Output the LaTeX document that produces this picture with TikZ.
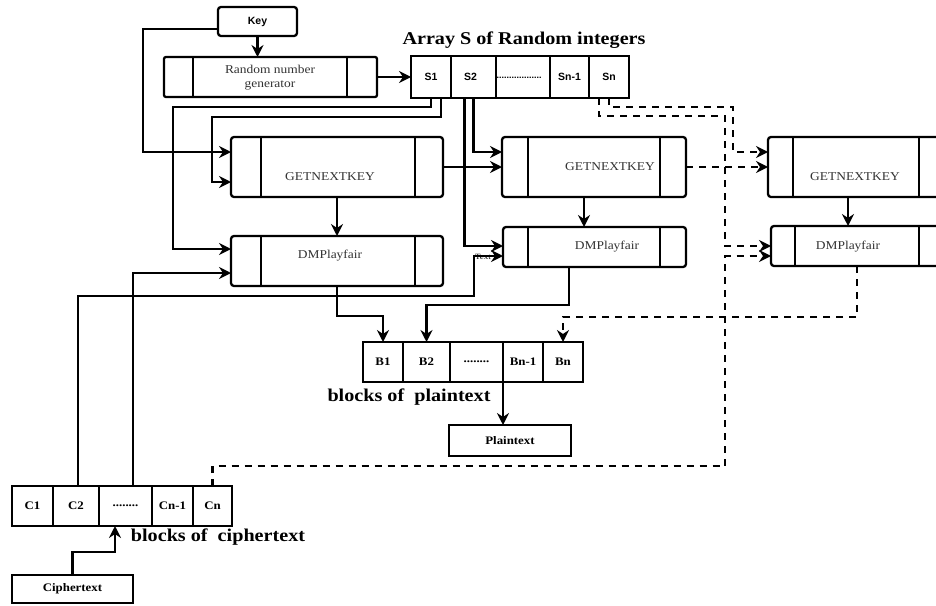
\documentclass[tikz,border=0pt]{standalone}
\usepackage{fontspec}
\setmainfont[FakeStretch=1.12]{Liberation Serif}
\setsansfont{Liberation Sans}
\usetikzlibrary{arrows.meta}
\newcommand\innerlines[3]{\draw[line width=2.3pt] ([xshift=#2]#1.north west) -- ([xshift=#2]#1.south west) ([xshift=-#3]#1.north east) -- ([xshift=-#3]#1.south east);}
\begin{document}
\begin{tikzpicture}[x=1pt,y=-1pt,
  box/.style={draw, line width=2.3pt, inner sep=0pt, outer sep=0pt},
  proc/.style={box, rounded corners=3pt},
  cell/.style={box, font=\sffamily\bfseries\fontsize{10.5}{12}\selectfont},
  bcell/.style={box, font=\bfseries\fontsize{11.5}{13}\selectfont},
  lbl/.style={inner sep=0pt, font=\fontsize{12}{14}\selectfont, text=black!80},
  big/.style={inner sep=0pt, font=\bfseries\fontsize{18}{20}\selectfont},
  arr/.style={line width=2.3pt, -{Stealth[length=12pt,width=12pt,inset=4pt]}},
  dsh/.style={arr, dash pattern=on 7pt off 6pt}]
\useasboundingbox (0,0) rectangle (936,605);
\clip (0,0) rectangle (936,605);
% top
\node[proc, minimum width=79pt, minimum height=29pt, font=\sffamily\bfseries\fontsize{10.5}{12}\selectfont] (key) at (257.5,21.5) {Key};
\node[box, rounded corners=2pt, minimum width=213pt, minimum height=40pt] (rng) at (270.5,77) {};
\innerlines{rng}{29pt}{30pt}
\node[lbl, align=center] (rngt) at (270,78) {Random number\\generator};
\node[big] (title) at (524,40) {Array S of Random integers};
% array S
\node[cell, minimum width=40pt, minimum height=42pt] (s1) at (431,77) {S1};
\node[cell, minimum width=45pt, minimum height=42pt] (s2) at (473.5,77) {\hspace*{-6pt}S2};
\node[cell, minimum width=54pt, minimum height=42pt] (sd) at (523,77) {};
\node[inner sep=0pt, font=\sffamily\bfseries\fontsize{9}{10}\selectfont] (sdots) at (519,78) {..................};
\node[cell, minimum width=39pt, minimum height=42pt] (sn1) at (569.5,77) {Sn-1};
\node[cell, minimum width=40pt, minimum height=42pt] (sn) at (609,77) {Sn};
% process boxes
\node[proc, minimum width=212pt, minimum height=60pt] (gnk1) at (337,167) {};
\innerlines{gnk1}{30pt}{28pt}
\node[lbl] (gnk1t) at (330,177) {GETNEXTKEY};
\node[proc, minimum width=212pt, minimum height=50pt] (dmp1) at (337,261) {};
\innerlines{dmp1}{30pt}{28pt}
\node[lbl] (dmp1t) at (330,256) {DMPlayfair};
\node[proc, minimum width=184pt, minimum height=60pt] (gnk2) at (594,167) {};
\innerlines{gnk2}{26pt}{26pt}
\node[lbl] (gnk2t) at (610,167) {GETNEXTKEY};
\node[proc, minimum width=183pt, minimum height=40pt] (dmp2) at (594.5,247) {};
\innerlines{dmp2}{25pt}{26pt}
\node[lbl] (dmp2t) at (607,247) {DMPlayfair};
\node[inner sep=0pt, font=\fontsize{8}{9}\selectfont] (stray) at (483,257) {Text};
\node[proc, minimum width=222pt, minimum height=60pt] (gnk3) at (879,167) {};
\innerlines{gnk3}{25pt}{71pt}
\node[lbl] (gnk3t) at (855,177) {GETNEXTKEY};
\node[proc, minimum width=219pt, minimum height=40pt] (dmp3) at (880.5,246) {};
\innerlines{dmp3}{24pt}{71pt}
\node[lbl] (dmp3t) at (848,247) {DMPlayfair};
% array B
\node[bcell, minimum width=40pt, minimum height=40pt] (b1) at (383,362) {B1};
\node[bcell, minimum width=47pt, minimum height=40pt] (b2) at (426.5,362) {B2};
\node[bcell, minimum width=53pt, minimum height=40pt] (bd) at (476.5,362) {........};
\node[bcell, minimum width=40pt, minimum height=40pt] (bn1) at (523,362) {Bn-1};
\node[bcell, minimum width=40pt, minimum height=40pt] (bn) at (563,362) {Bn};
\node[big] (bpl) at (409,397) {blocks of\ \ plaintext};
\node[bcell, minimum width=122pt, minimum height=31pt] (plain) at (510,440.5) {Plaintext};
% array C
\node[bcell, minimum width=41pt, minimum height=40pt] (c1) at (32.5,506) {C1};
\node[bcell, minimum width=46pt, minimum height=40pt] (c2) at (76,506) {C2};
\node[bcell, minimum width=53pt, minimum height=40pt] (cd) at (125.5,506) {........};
\node[bcell, minimum width=41pt, minimum height=40pt] (cn1) at (172.5,506) {Cn-1};
\node[bcell, minimum width=39pt, minimum height=40pt] (cn) at (212.5,506) {Cn};
\node[big] (bci) at (218,537) {blocks of\ \ ciphertext};
\node[bcell, minimum width=121pt, minimum height=28pt] (ct) at (72.5,589) {Ciphertext};
% connectors
\draw[arr] (key.south) -- (rng.north -| key.south);
\draw[arr] (key.west |- 0,29) -| (143,152) -- (gnk1.west |- 0,152);
\draw[arr] (rng.east) -- (s1.west);
\draw[arr] (s1.south) |- (173,107) |- (dmp1.west |- 0,249);
\draw[arr] ([xshift=10pt]s1.south) |- (212,117) |- (gnk1.west |- 0,182);
\draw[arr] (s2.south) |- (gnk2.west |- 0,152);
\draw[arr] ([xshift=-9pt]s2.south) |- (dmp2.west |- 0,246);
\draw[arr] (gnk1.east) -- (gnk2.west);
\draw[arr] (gnk1.south) -- (dmp1.north);
\draw[arr] (gnk2.south -| 584,0) -- (dmp2.north -| 584,0);
\draw[arr] (dmp1.south) |- (b1.north |- 0,316) -- (b1.north);
\draw[arr] (dmp2.south -| 569,0) |- (b2.north |- 0,305) -- (b2.north);
\draw[arr] (c2.north -| 78,0) |- (474,296) |- (dmp2.west |- 0,256);
\draw[arr] (cd.north -| 133,0) |- (dmp1.west |- 0,273);
\draw[dsh] (gnk2.east) -- (gnk3.west);
\draw[dsh] (sn.south) |- (733,107) |- (gnk3.west |- 0,152);
\draw[dsh] ([xshift=-10pt]sn.south) |- (725,116) |- (dmp3.west |- 0,246);
\draw[dsh] (cn.north) |- (725,466) |- (dmp3.west |- 0,256);
\draw[arr] (gnk3.south -| 848,0) -- (dmp3.north -| 848,0);
\draw[dsh] (dmp3.south -| 857,0) |- (bn.north |- 0,317) -- (bn.north);
\draw[arr] (bd.south east) -- (bd.south east |- plain.north);
\draw[arr] (ct.north) |- (115,552) -- (cd.south -| 115,0);
\end{tikzpicture}
\end{document}
